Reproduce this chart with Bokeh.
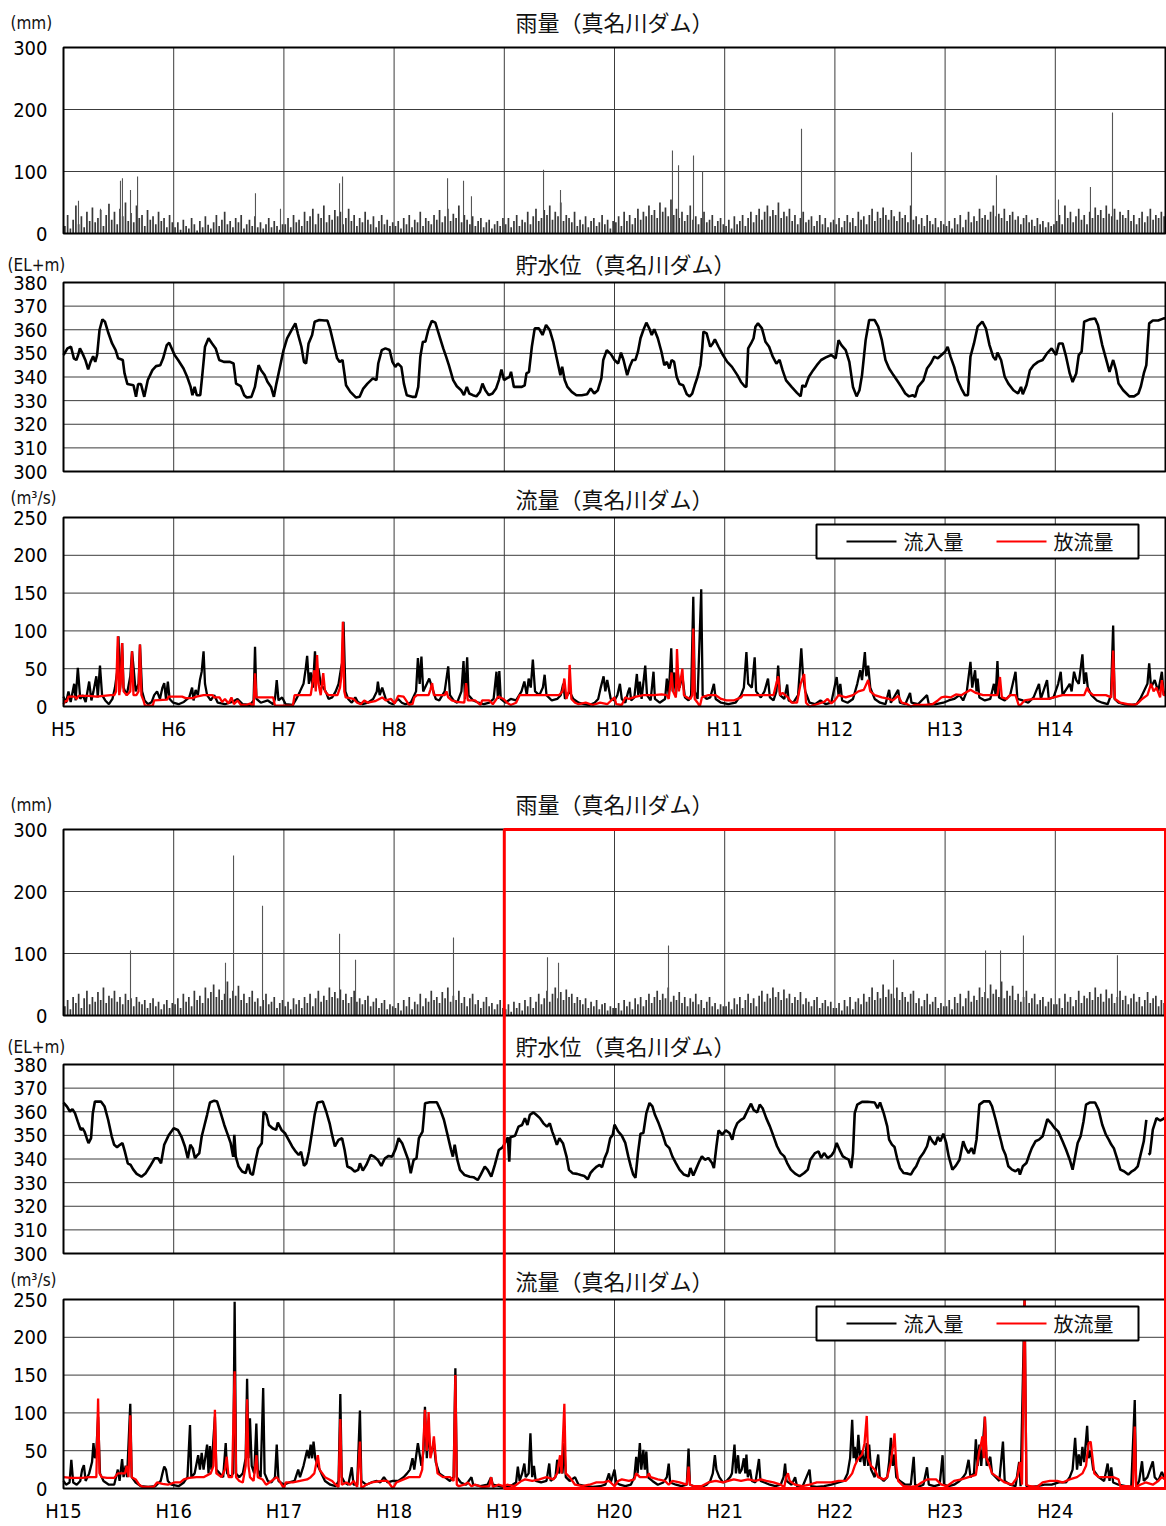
import numpy as np
from bokeh.plotting import figure
from bokeh.models import Range1d, FixedTicker, CustomJSTickFormatter, Label, BoxAnnotation
from bokeh.layouts import column
from bokeh.embed import file_html
from bokeh.resources import INLINE
from bokeh.core.properties import value

# ---------------------------------------------------------------- data
RAIN_TICKS = [0, 100, 200, 300]
LEVEL_TICKS = [300, 310, 320, 330, 340, 350, 360, 370, 380]
FLOW_TICKS = [0, 50, 100, 150, 200, 250]

YEARS_A = list(range(5, 15))    # H5 .. H14
YEARS_B = list(range(15, 25))   # H15 .. H24

# rainfall (mm) sampled 40 times a year, one row per year
RAIN_A_ROWS = [
    [12, 30, 8, 22, 45, 15, 28, 10, 35, 20, 42, 18, 25, 38, 12, 30, 48, 22, 35, 15, 40, 28, 50, 20, 33, 18, 45, 25, 30, 12, 38, 22, 28, 15, 35, 20, 25, 10, 30, 18],
    [10, 18, 6, 22, 12, 8, 25, 15, 5, 20, 10, 28, 14, 8, 18, 30, 12, 22, 35, 15, 20, 10, 25, 18, 30, 8, 15, 22, 12, 28, 10, 18, 8, 15, 25, 10, 20, 12, 6, 15],
    [15, 25, 10, 30, 18, 22, 12, 35, 20, 28, 40, 15, 32, 25, 45, 18, 30, 22, 38, 28, 35, 15, 25, 40, 20, 30, 12, 25, 18, 35, 22, 15, 28, 10, 20, 30, 15, 22, 12, 18],
    [12, 20, 8, 25, 15, 30, 10, 22, 18, 35, 12, 25, 20, 15, 30, 22, 38, 18, 28, 40, 20, 32, 25, 45, 18, 30, 22, 15, 28, 12, 20, 25, 10, 18, 22, 8, 15, 20, 12, 25],
    [15, 25, 10, 20, 30, 12, 22, 18, 35, 15, 28, 40, 20, 25, 38, 30, 45, 22, 35, 28, 50, 20, 30, 25, 18, 35, 12, 22, 15, 28, 10, 20, 25, 12, 18, 30, 15, 22, 8, 20],
    [18, 28, 12, 35, 20, 30, 15, 25, 40, 22, 35, 28, 45, 30, 38, 25, 50, 35, 42, 28, 55, 30, 40, 25, 35, 20, 30, 45, 22, 28, 15, 25, 35, 18, 22, 30, 12, 20, 25, 15],
    [12, 22, 8, 28, 15, 20, 30, 12, 25, 35, 18, 30, 40, 22, 35, 45, 28, 38, 30, 50, 25, 35, 28, 40, 20, 30, 15, 25, 35, 18, 22, 28, 12, 20, 30, 15, 25, 10, 18, 22],
    [15, 25, 10, 20, 30, 18, 25, 12, 35, 22, 28, 15, 30, 40, 20, 35, 25, 42, 30, 22, 38, 28, 20, 35, 25, 30, 18, 45, 22, 28, 15, 25, 12, 30, 20, 15, 25, 10, 20, 15],
    [12, 20, 8, 25, 15, 30, 10, 22, 35, 18, 28, 20, 40, 25, 30, 22, 35, 45, 28, 32, 25, 40, 20, 30, 35, 22, 28, 15, 25, 30, 18, 22, 12, 25, 15, 20, 10, 18, 12, 15],
    [20, 30, 15, 45, 25, 35, 18, 28, 40, 22, 30, 15, 35, 25, 42, 30, 38, 25, 45, 32, 28, 40, 22, 35, 30, 25, 38, 20, 30, 15, 25, 35, 18, 28, 40, 22, 30, 25, 35, 28],
]
RAIN_B_ROWS = [
    [15, 25, 10, 30, 20, 35, 12, 28, 40, 18, 30, 22, 38, 25, 45, 20, 32, 28, 40, 22, 30, 18, 35, 25, 28, 15, 30, 22, 18, 25, 12, 20, 28, 15, 22, 10, 18, 25, 12, 20],
    [18, 28, 12, 35, 22, 30, 15, 40, 25, 32, 20, 45, 28, 38, 50, 30, 42, 25, 35, 55, 28, 40, 32, 48, 25, 35, 20, 30, 40, 22, 28, 15, 25, 35, 18, 22, 30, 12, 20, 25],
    [15, 22, 10, 28, 18, 25, 12, 30, 20, 35, 15, 28, 40, 22, 32, 25, 45, 30, 38, 28, 42, 25, 35, 20, 30, 40, 22, 28, 18, 25, 32, 15, 22, 28, 12, 20, 25, 10, 18, 15],
    [12, 20, 8, 25, 15, 30, 10, 22, 18, 35, 15, 28, 22, 40, 25, 30, 20, 38, 28, 45, 22, 32, 25, 40, 20, 30, 15, 28, 35, 18, 25, 12, 22, 30, 15, 20, 10, 18, 25, 12],
    [10, 18, 6, 22, 12, 20, 8, 25, 15, 30, 12, 22, 35, 18, 28, 40, 22, 35, 45, 28, 38, 25, 42, 30, 35, 20, 30, 25, 18, 28, 12, 22, 15, 25, 10, 18, 20, 8, 15, 12],
    [12, 20, 8, 25, 15, 22, 10, 28, 18, 30, 15, 25, 35, 20, 30, 40, 25, 35, 28, 45, 22, 32, 25, 38, 20, 30, 15, 28, 22, 35, 18, 25, 12, 22, 30, 15, 20, 10, 18, 15],
    [15, 22, 10, 28, 18, 30, 12, 25, 35, 20, 28, 15, 32, 40, 22, 35, 28, 45, 30, 38, 25, 42, 28, 35, 20, 30, 25, 38, 18, 28, 22, 15, 25, 30, 12, 20, 25, 15, 22, 12],
    [12, 20, 8, 25, 15, 30, 10, 22, 28, 18, 35, 22, 30, 45, 25, 38, 28, 50, 30, 42, 35, 28, 45, 25, 38, 30, 22, 35, 40, 20, 28, 15, 25, 35, 18, 22, 30, 12, 20, 15],
    [15, 25, 10, 30, 20, 35, 15, 28, 40, 22, 32, 25, 45, 30, 38, 28, 50, 35, 42, 30, 55, 28, 40, 32, 48, 25, 35, 22, 30, 40, 20, 28, 35, 18, 25, 30, 15, 22, 28, 18],
    [18, 28, 12, 35, 22, 30, 15, 25, 40, 20, 32, 28, 38, 25, 45, 30, 35, 22, 42, 28, 35, 20, 30, 40, 25, 32, 18, 28, 35, 22, 30, 15, 25, 38, 20, 28, 32, 15, 25, 20],
]
# heavy-rain days (mm), (year, mm)
RAIN_A_PEAKS = [
    (5.136, 53), (5.336, 40), (5.517, 85), (5.535, 89), (5.608, 70), (5.672, 92),
    (6.742, 65), (6.969, 40), (7.505, 81), (7.532, 92), (8.485, 89), (8.630, 85),
    (8.702, 60), (9.356, 103), (9.510, 70), (10.526, 134), (10.581, 110),
    (10.717, 126), (10.799, 100), (11.697, 169), (12.695, 131), (13.466, 94),
    (14.029, 55), (14.319, 75), (14.519, 195),
]
RAIN_B_PEAKS = [
    (15.608, 105), (16.470, 85), (16.543, 258), (16.806, 177), (17.505, 132),
    (17.650, 90), (18.539, 126), (19.392, 94), (19.492, 85), (20.490, 113),
    (22.532, 90), (23.367, 105), (23.503, 105), (23.711, 129), (24.564, 97),
]

# reservoir level (EL.m), (year, level)
LEVEL_A = [
    (5.000, 349.3), (5.036, 352.1), (5.068, 352.8), (5.094, 347.9), (5.117, 347.2),
    (5.133, 349.3), (5.149, 352.1), (5.172, 350.0), (5.198, 347.2), (5.224, 343.2),
    (5.246, 346.4), (5.269, 348.8), (5.288, 346.4), (5.305, 349.3), (5.327, 359.9),
    (5.353, 364.4), (5.376, 363.4), (5.408, 358.5), (5.441, 354.2), (5.473, 351.4),
    (5.496, 347.9), (5.538, 347.2), (5.554, 341.5), (5.580, 337.0), (5.635, 336.5),
    (5.658, 331.6), (5.677, 337.0), (5.703, 337.0), (5.733, 331.6), (5.765, 338.7),
    (5.807, 342.9), (5.840, 344.6), (5.878, 345.0), (5.904, 347.9), (5.937, 353.5),
    (5.959, 354.5), (5.982, 352.1), (6.008, 349.3), (6.040, 347.2), (6.089, 343.6),
    (6.122, 340.1), (6.154, 335.8), (6.170, 332.3), (6.190, 335.8), (6.209, 332.3),
    (6.241, 332.3), (6.261, 341.5), (6.284, 352.8), (6.316, 356.4), (6.348, 354.2),
    (6.381, 352.1), (6.413, 347.2), (6.455, 346.4), (6.511, 346.4), (6.543, 345.7),
    (6.566, 337.2), (6.608, 336.1), (6.640, 332.3), (6.663, 331.3), (6.705, 331.6),
    (6.737, 335.8), (6.770, 345.0), (6.793, 342.9), (6.825, 340.8), (6.851, 338.0),
    (6.883, 335.8), (6.909, 331.6), (6.932, 337.2), (6.955, 342.2), (6.997, 351.4),
    (7.029, 356.4), (7.078, 360.6), (7.104, 362.7), (7.126, 358.5), (7.159, 352.8),
    (7.182, 346.4), (7.201, 345.7), (7.224, 354.2), (7.256, 357.8), (7.279, 363.4),
    (7.321, 364.1), (7.370, 363.9), (7.395, 363.9), (7.418, 360.6), (7.451, 354.2),
    (7.483, 347.9), (7.506, 346.4), (7.532, 347.2), (7.564, 336.5), (7.603, 333.7),
    (7.655, 331.3), (7.687, 331.6), (7.720, 335.1), (7.758, 337.2), (7.807, 339.4),
    (7.840, 338.7), (7.856, 345.7), (7.888, 351.4), (7.921, 352.1), (7.959, 351.4),
    (7.985, 346.4), (8.011, 344.3), (8.034, 345.7), (8.066, 344.3), (8.089, 337.2),
    (8.115, 332.3), (8.164, 331.6), (8.196, 331.6), (8.219, 335.8), (8.238, 348.6),
    (8.261, 354.9), (8.284, 354.9), (8.310, 359.9), (8.342, 363.7), (8.374, 363.0),
    (8.413, 357.1), (8.446, 352.1), (8.472, 348.6), (8.497, 345.0), (8.536, 338.7),
    (8.569, 336.1), (8.608, 334.4), (8.634, 332.3), (8.660, 335.8), (8.682, 333.0),
    (8.715, 332.3), (8.747, 331.8), (8.779, 333.7), (8.802, 337.2), (8.828, 334.4),
    (8.860, 332.3), (8.893, 333.0), (8.925, 335.1), (8.951, 338.7), (8.974, 343.2),
    (8.997, 338.7), (9.022, 339.4), (9.048, 340.1), (9.061, 342.2), (9.087, 335.8),
    (9.120, 335.8), (9.159, 335.8), (9.185, 336.5), (9.201, 341.5), (9.224, 342.2),
    (9.250, 352.8), (9.276, 360.6), (9.314, 360.6), (9.347, 357.8), (9.379, 362.0),
    (9.412, 359.9), (9.444, 354.9), (9.476, 347.9), (9.509, 340.8), (9.525, 344.3),
    (9.548, 338.7), (9.573, 335.8), (9.612, 333.7), (9.654, 332.3), (9.703, 332.3),
    (9.751, 332.7), (9.784, 335.1), (9.816, 333.0), (9.849, 334.4), (9.881, 339.4),
    (9.898, 347.2), (9.930, 351.4), (9.967, 349.7), (10.000, 347.2), (10.033, 345.7),
    (10.059, 350.3), (10.082, 347.2), (10.115, 340.8), (10.138, 344.3), (10.164, 347.2),
    (10.190, 347.2), (10.213, 350.7), (10.236, 356.4), (10.262, 359.9), (10.289, 363.0),
    (10.315, 360.6), (10.338, 357.8), (10.361, 360.2), (10.393, 356.4), (10.426, 350.7),
    (10.452, 345.0), (10.475, 346.4), (10.498, 343.6), (10.518, 347.2), (10.541, 346.4),
    (10.564, 340.1), (10.590, 337.0), (10.623, 336.5), (10.656, 332.7), (10.682, 331.8),
    (10.705, 333.0), (10.728, 336.5), (10.754, 340.1), (10.780, 345.0), (10.797, 352.8),
    (10.807, 359.2), (10.836, 358.5), (10.869, 352.8), (10.892, 354.2), (10.911, 355.9),
    (10.944, 352.8), (10.984, 349.3), (11.023, 346.4), (11.066, 344.3), (11.115, 340.8),
    (11.148, 337.9), (11.180, 336.1), (11.197, 335.8), (11.213, 352.1), (11.239, 354.2),
    (11.262, 356.4), (11.279, 361.3), (11.302, 362.7), (11.338, 360.6), (11.370, 354.9),
    (11.403, 352.8), (11.436, 348.6), (11.469, 345.7), (11.498, 347.2), (11.525, 342.9),
    (11.557, 338.6), (11.607, 335.8), (11.656, 333.3), (11.689, 331.8), (11.705, 336.5),
    (11.731, 335.8), (11.764, 340.1), (11.803, 342.9), (11.836, 345.0), (11.875, 347.2),
    (11.918, 348.3), (11.967, 349.3), (12.007, 347.9), (12.033, 355.6), (12.059, 353.5),
    (12.098, 351.4), (12.131, 346.4), (12.164, 335.8), (12.197, 331.8), (12.223, 334.4),
    (12.246, 340.8), (12.279, 355.6), (12.311, 364.1), (12.361, 364.1), (12.393, 361.3),
    (12.426, 355.6), (12.459, 347.2), (12.492, 343.6), (12.531, 340.8), (12.574, 337.9),
    (12.607, 335.5), (12.639, 333.0), (12.672, 331.8), (12.705, 332.3), (12.728, 331.6),
    (12.754, 335.8), (12.803, 338.6), (12.836, 343.6), (12.869, 345.7), (12.902, 348.6),
    (12.934, 347.9), (12.967, 349.3), (13.000, 350.7), (13.023, 352.8), (13.049, 348.6),
    (13.082, 344.3), (13.115, 338.6), (13.148, 335.1), (13.180, 332.3), (13.207, 332.3),
    (13.230, 348.6), (13.262, 354.2), (13.295, 361.3), (13.338, 363.4), (13.370, 360.6),
    (13.403, 353.5), (13.436, 348.6), (13.459, 347.2), (13.475, 350.3), (13.508, 347.2),
    (13.541, 340.1), (13.574, 337.2), (13.620, 334.4), (13.662, 333.0), (13.689, 335.8),
    (13.705, 332.7), (13.738, 336.5), (13.770, 342.9), (13.803, 345.0), (13.843, 346.4),
    (13.885, 347.2), (13.925, 350.0), (13.967, 352.1), (14.007, 349.3), (14.033, 354.2),
    (14.066, 354.2), (14.098, 348.6), (14.131, 341.5), (14.157, 337.9), (14.190, 341.5),
    (14.213, 349.3), (14.239, 350.7), (14.262, 363.4), (14.311, 364.4), (14.361, 364.8),
    (14.387, 362.0), (14.426, 353.5), (14.459, 347.9), (14.492, 342.2), (14.525, 347.2),
    (14.551, 342.9), (14.574, 337.2), (14.616, 334.4), (14.672, 331.8), (14.715, 331.8),
    (14.754, 333.0), (14.777, 336.1), (14.803, 341.5), (14.826, 345.0), (14.852, 362.7),
    (14.885, 363.9), (14.934, 363.9), (14.984, 364.8), (15.000, 364.8),
]
LEVEL_B = [
    (15.000, 363.9), (15.032, 362.2), (15.058, 360.1), (15.081, 361.1), (15.104, 359.4),
    (15.130, 355.8), (15.156, 352.3), (15.172, 353.0), (15.191, 351.6), (15.211, 348.8),
    (15.227, 346.7), (15.250, 348.8), (15.266, 359.4), (15.285, 364.3), (15.340, 364.3),
    (15.373, 362.2), (15.405, 356.6), (15.438, 349.5), (15.460, 346.0), (15.486, 345.0),
    (15.512, 346.0), (15.535, 346.7), (15.557, 343.1), (15.583, 338.2), (15.609, 337.5),
    (15.632, 335.6), (15.664, 333.7), (15.707, 332.5), (15.746, 334.0), (15.784, 336.8),
    (15.827, 340.3), (15.859, 340.3), (15.885, 338.2), (15.914, 346.0), (15.956, 350.2),
    (16.000, 353.0), (16.037, 352.3), (16.070, 349.5), (16.102, 345.3), (16.128, 340.3),
    (16.151, 346.0), (16.173, 344.5), (16.193, 340.3), (16.216, 341.7), (16.232, 342.4),
    (16.254, 349.5), (16.280, 354.4), (16.303, 358.7), (16.329, 363.9), (16.368, 364.7),
    (16.394, 364.3), (16.427, 359.4), (16.459, 354.4), (16.491, 350.2), (16.517, 346.7),
    (16.540, 341.0), (16.550, 350.2), (16.563, 341.0), (16.589, 336.8), (16.621, 334.7),
    (16.653, 334.0), (16.676, 337.9), (16.696, 334.0), (16.718, 333.2), (16.744, 339.6),
    (16.767, 344.5), (16.799, 346.7), (16.816, 360.1), (16.842, 358.7), (16.864, 354.4),
    (16.897, 353.0), (16.929, 352.3), (16.945, 355.4), (16.978, 352.3), (17.010, 350.9),
    (17.043, 348.1), (17.075, 345.3), (17.108, 343.1), (17.134, 341.7), (17.156, 343.1),
    (17.182, 337.1), (17.204, 338.2), (17.227, 343.1), (17.256, 351.6), (17.279, 358.7),
    (17.305, 363.9), (17.353, 364.3), (17.384, 360.1), (17.415, 355.1), (17.437, 350.2),
    (17.463, 345.3), (17.496, 348.1), (17.528, 348.8), (17.551, 343.8), (17.576, 336.8),
    (17.610, 336.1), (17.642, 334.7), (17.674, 335.4), (17.690, 338.2), (17.716, 335.1),
    (17.748, 337.5), (17.787, 341.7), (17.819, 341.0), (17.852, 339.6), (17.884, 337.1),
    (17.917, 340.3), (17.950, 341.3), (17.982, 341.0), (18.015, 344.5), (18.041, 348.8),
    (18.073, 346.7), (18.096, 343.8), (18.129, 339.6), (18.151, 334.0), (18.177, 339.6),
    (18.203, 340.3), (18.225, 348.8), (18.258, 351.6), (18.281, 363.6), (18.323, 364.0),
    (18.388, 364.0), (18.420, 360.8), (18.452, 356.6), (18.485, 350.2), (18.517, 343.8),
    (18.533, 341.0), (18.550, 346.0), (18.574, 339.6), (18.598, 335.4), (18.640, 333.2),
    (18.687, 332.5), (18.720, 332.3), (18.759, 331.1), (18.784, 333.2), (18.823, 336.8),
    (18.849, 335.4), (18.882, 332.5), (18.914, 337.5), (18.950, 343.8), (18.987, 345.0),
    (19.032, 349.2), (19.045, 338.9), (19.055, 349.2), (19.097, 349.8), (19.129, 353.7),
    (19.161, 354.4), (19.187, 357.3), (19.210, 354.4), (19.232, 358.7), (19.265, 359.7),
    (19.290, 358.7), (19.323, 357.3), (19.355, 355.1), (19.387, 353.7), (19.413, 355.1),
    (19.435, 351.6), (19.452, 349.5), (19.477, 346.0), (19.500, 348.8), (19.532, 346.7),
    (19.565, 341.0), (19.587, 335.4), (19.619, 334.0), (19.661, 333.7), (19.694, 333.2),
    (19.726, 332.8), (19.758, 331.4), (19.781, 334.0), (19.806, 335.4), (19.839, 336.8),
    (19.865, 337.5), (19.887, 336.5), (19.910, 340.3), (19.935, 343.1), (19.961, 348.8),
    (19.984, 350.2), (20.000, 354.5), (20.033, 351.7), (20.066, 349.9), (20.098, 346.8),
    (20.125, 341.1), (20.148, 336.9), (20.170, 333.4), (20.190, 332.0), (20.213, 342.5),
    (20.236, 350.7), (20.262, 351.0), (20.289, 359.4), (20.318, 363.7), (20.344, 362.3),
    (20.367, 358.7), (20.400, 355.2), (20.433, 351.0), (20.466, 346.1), (20.498, 344.6),
    (20.525, 341.1), (20.557, 338.3), (20.590, 335.5), (20.630, 333.4), (20.672, 332.7),
    (20.689, 336.2), (20.715, 333.0), (20.738, 335.5), (20.770, 339.0), (20.793, 341.1),
    (20.820, 339.7), (20.852, 340.4), (20.885, 338.3), (20.902, 336.2), (20.925, 345.4),
    (20.944, 352.1), (20.977, 350.3), (21.010, 352.1), (21.043, 351.0), (21.069, 348.2),
    (21.089, 352.4), (21.115, 355.2), (21.148, 356.6), (21.174, 357.3), (21.213, 361.1),
    (21.239, 363.4), (21.262, 360.8), (21.295, 359.7), (21.318, 363.0), (21.344, 361.5),
    (21.377, 357.3), (21.410, 353.8), (21.443, 349.6), (21.475, 345.4), (21.508, 342.5),
    (21.541, 341.1), (21.567, 338.3), (21.600, 335.5), (21.639, 333.8), (21.679, 332.7),
    (21.721, 334.1), (21.754, 335.5), (21.777, 339.7), (21.820, 342.5), (21.852, 343.2),
    (21.875, 340.4), (21.902, 342.5), (21.934, 340.4), (21.967, 341.4), (21.993, 343.2),
    (22.016, 346.8), (22.049, 343.2), (22.072, 341.1), (22.098, 340.4), (22.125, 339.7),
    (22.148, 336.2), (22.164, 342.5), (22.180, 359.4), (22.203, 363.0), (22.246, 364.2),
    (22.295, 364.2), (22.361, 363.9), (22.387, 361.5), (22.410, 363.9), (22.443, 359.4),
    (22.475, 353.8), (22.492, 348.2), (22.518, 346.1), (22.541, 345.1), (22.564, 340.4),
    (22.590, 336.2), (22.623, 334.1), (22.662, 333.8), (22.689, 333.4), (22.715, 335.5),
    (22.738, 336.9), (22.770, 340.4), (22.803, 342.5), (22.836, 345.4), (22.859, 349.6),
    (22.885, 347.5), (22.911, 346.1), (22.934, 349.3), (22.957, 347.5), (22.984, 350.7),
    (23.010, 346.8), (23.033, 341.1), (23.066, 335.5), (23.098, 337.2), (23.131, 339.7),
    (23.164, 347.5), (23.187, 344.6), (23.213, 342.5), (23.239, 344.6), (23.262, 342.1),
    (23.285, 348.2), (23.311, 363.0), (23.351, 364.4), (23.403, 364.4), (23.426, 362.3),
    (23.459, 356.6), (23.492, 350.3), (23.508, 347.5), (23.525, 344.2), (23.548, 341.8),
    (23.574, 336.9), (23.607, 335.5), (23.639, 334.8), (23.666, 335.8), (23.679, 333.4),
    (23.705, 336.9), (23.738, 338.3), (23.764, 341.8), (23.787, 344.6), (23.820, 347.5),
    (23.852, 348.2), (23.885, 349.6), (23.928, 356.9), (23.961, 355.2), (23.993, 353.1),
    (24.026, 351.7), (24.066, 347.5), (24.098, 343.9), (24.131, 339.7), (24.157, 335.5),
    (24.180, 341.1), (24.203, 346.8), (24.230, 349.6), (24.256, 355.9), (24.279, 363.0),
    (24.311, 363.9), (24.361, 363.9), (24.393, 360.8), (24.426, 354.5), (24.459, 350.3),
    (24.485, 348.2), (24.508, 346.1), (24.531, 344.6), (24.564, 339.7), (24.590, 335.5),
    (24.623, 334.8), (24.662, 333.4), (24.695, 334.8), (24.721, 335.5), (24.748, 336.9),
    (24.770, 341.1), (24.803, 347.5), (24.826, 356.6), (24.836, float("nan")),
    (24.846, 341.8), (24.859, 342.3), (24.885, 352.4), (24.918, 357.3), (24.951, 356.3),
    (24.977, 356.9), (25.000, 357.7),
]

# inflow (m3/s), (year, discharge)
INFLOW_A = [
    (5.000, 13), (5.023, 5), (5.045, 20), (5.065, 6), (5.097, 30), (5.110, 8), (5.130, 51),
    (5.152, 10), (5.175, 15), (5.201, 6), (5.233, 33), (5.253, 8), (5.272, 20), (5.298, 40),
    (5.311, 12), (5.331, 54), (5.350, 15), (5.379, 8), (5.412, 3), (5.444, 10), (5.467, 25),
    (5.486, 45), (5.499, 93), (5.512, 20), (5.532, 84), (5.545, 25), (5.574, 15), (5.606, 40),
    (5.622, 73), (5.639, 46), (5.655, 20), (5.681, 30), (5.694, 82), (5.713, 20), (5.736, 8),
    (5.768, 3), (5.801, 6), (5.823, 15), (5.849, 20), (5.875, 10), (5.898, 25), (5.914, 31),
    (5.930, 10), (5.947, 33), (5.963, 10), (5.995, 5), (6.044, 3), (6.092, 6), (6.141, 12),
    (6.167, 25), (6.180, 8), (6.199, 22), (6.219, 15), (6.238, 35), (6.254, 46), (6.271, 73),
    (6.284, 30), (6.303, 15), (6.336, 8), (6.368, 15), (6.400, 5), (6.465, 3), (6.530, 6),
    (6.579, 10), (6.627, 3), (6.692, 2), (6.725, 8), (6.738, 79), (6.751, 10), (6.790, 5),
    (6.854, 8), (6.903, 3), (6.919, 10), (6.935, 35), (6.951, 8), (6.984, 12), (7.016, 3),
    (7.081, 2), (7.113, 10), (7.146, 20), (7.178, 30), (7.198, 50), (7.211, 67), (7.227, 30),
    (7.243, 45), (7.263, 25), (7.282, 73), (7.295, 40), (7.314, 50), (7.334, 30), (7.357, 25),
    (7.379, 20), (7.405, 10), (7.438, 12), (7.470, 20), (7.496, 30), (7.519, 51), (7.532, 60),
    (7.541, 112), (7.558, 20), (7.583, 10), (7.616, 5), (7.648, 12), (7.671, 6), (7.713, 3),
    (7.762, 5), (7.810, 10), (7.843, 20), (7.853, 33), (7.869, 15), (7.892, 25), (7.924, 10),
    (7.956, 5), (7.989, 3), (8.037, 10), (8.070, 5), (8.102, 3), (8.151, 5), (8.199, 20),
    (8.216, 64), (8.232, 30), (8.248, 66), (8.264, 20), (8.297, 30), (8.319, 37), (8.345, 25),
    (8.378, 10), (8.410, 8), (8.459, 20), (8.491, 53), (8.507, 15), (8.540, 8), (8.572, 5),
    (8.611, 20), (8.630, 60), (8.643, 10), (8.663, 65), (8.676, 15), (8.718, 8), (8.767, 5),
    (8.815, 3), (8.864, 5), (8.903, 10), (8.929, 46), (8.942, 10), (8.955, 47), (8.968, 10),
    (9.010, 5), (9.058, 10), (9.107, 8), (9.156, 20), (9.182, 33), (9.204, 15), (9.221, 37),
    (9.240, 25), (9.259, 62), (9.279, 20), (9.318, 15), (9.350, 25), (9.366, 42), (9.383, 15),
    (9.431, 8), (9.480, 10), (9.512, 15), (9.535, 30), (9.551, 10), (9.593, 20), (9.626, 10),
    (9.674, 5), (9.723, 3), (9.772, 2), (9.820, 5), (9.852, 10), (9.875, 25), (9.901, 40),
    (9.917, 20), (9.934, 35), (9.966, 10), (10.000, 8), (10.026, 15), (10.049, 30),
    (10.066, 10), (10.098, 5), (10.125, 20), (10.138, 25), (10.151, 8), (10.180, 12),
    (10.203, 43), (10.216, 15), (10.230, 33), (10.246, 10), (10.279, 54), (10.295, 15),
    (10.328, 8), (10.354, 46), (10.367, 10), (10.410, 5), (10.459, 10), (10.475, 37),
    (10.492, 15), (10.515, 77), (10.528, 20), (10.544, 45), (10.557, 15), (10.574, 45),
    (10.590, 25), (10.616, 40), (10.639, 12), (10.672, 8), (10.695, 15), (10.715, 145),
    (10.728, 20), (10.754, 10), (10.787, 155), (10.800, 15), (10.836, 10), (10.869, 12),
    (10.902, 30), (10.918, 10), (10.967, 5), (11.033, 3), (11.098, 5), (11.148, 15),
    (11.174, 25), (11.197, 72), (11.213, 30), (11.246, 25), (11.272, 65), (11.285, 20),
    (11.328, 12), (11.361, 20), (11.393, 37), (11.410, 12), (11.443, 8), (11.469, 20),
    (11.485, 54), (11.502, 15), (11.541, 10), (11.567, 29), (11.580, 8), (11.623, 5),
    (11.666, 15), (11.695, 77), (11.711, 40), (11.731, 20), (11.770, 5), (11.820, 3),
    (11.869, 8), (11.918, 3), (11.967, 5), (12.016, 39), (12.033, 15), (12.049, 30),
    (12.066, 8), (12.115, 5), (12.164, 10), (12.203, 30), (12.230, 48), (12.246, 35),
    (12.272, 72), (12.285, 40), (12.302, 54), (12.321, 25), (12.361, 10), (12.410, 5),
    (12.459, 3), (12.492, 22), (12.508, 5), (12.574, 22), (12.590, 5), (12.639, 3),
    (12.682, 18), (12.695, 5), (12.754, 3), (12.836, 15), (12.852, 3), (12.918, 3),
    (12.984, 5), (13.033, 8), (13.082, 10), (13.131, 15), (13.164, 8), (13.197, 20),
    (13.230, 59), (13.246, 25), (13.272, 48), (13.285, 20), (13.295, 37), (13.311, 12),
    (13.361, 8), (13.410, 10), (13.443, 30), (13.459, 15), (13.475, 60), (13.489, 12),
    (13.541, 8), (13.590, 15), (13.639, 46), (13.656, 10), (13.705, 8), (13.754, 5),
    (13.803, 12), (13.852, 30), (13.869, 10), (13.925, 35), (13.941, 10), (13.984, 12),
    (14.026, 30), (14.049, 46), (14.066, 15), (14.131, 30), (14.148, 20), (14.170, 46),
    (14.190, 35), (14.213, 30), (14.246, 69), (14.262, 30), (14.279, 45), (14.295, 25),
    (14.328, 15), (14.377, 8), (14.426, 5), (14.475, 3), (14.505, 15), (14.525, 107),
    (14.538, 10), (14.574, 5), (14.623, 3), (14.689, 2), (14.738, 3), (14.770, 10),
    (14.803, 20), (14.836, 30), (14.852, 57), (14.869, 25), (14.902, 35), (14.934, 20),
    (14.967, 46), (14.984, 15), (15.000, 20),
]
INFLOW_B = [
    (15.000, 10), (15.023, 5), (15.055, 8), (15.071, 38), (15.088, 8), (15.120, 5),
    (15.152, 10), (15.169, 25), (15.185, 31), (15.201, 10), (15.233, 20), (15.259, 35),
    (15.272, 60), (15.285, 40), (15.298, 50), (15.314, 95), (15.331, 20), (15.363, 10),
    (15.412, 5), (15.460, 5), (15.493, 25), (15.509, 10), (15.532, 39), (15.545, 15),
    (15.564, 30), (15.577, 15), (15.606, 112), (15.619, 15), (15.655, 8), (15.703, 3),
    (15.768, 2), (15.833, 3), (15.882, 10), (15.898, 20), (15.914, 29), (15.930, 25),
    (15.947, 10), (15.979, 5), (16.044, 3), (16.092, 8), (16.125, 15), (16.148, 84),
    (16.160, 15), (16.190, 20), (16.222, 44), (16.238, 25), (16.254, 47), (16.271, 25),
    (16.303, 58), (16.316, 20), (16.329, 56), (16.342, 25), (16.374, 95), (16.387, 25),
    (16.417, 20), (16.449, 15), (16.472, 60), (16.485, 20), (16.514, 15), (16.540, 20),
    (16.553, 247), (16.566, 20), (16.595, 15), (16.627, 20), (16.653, 40), (16.666, 145),
    (16.679, 40), (16.692, 93), (16.708, 30), (16.731, 20), (16.750, 86), (16.763, 25),
    (16.789, 15), (16.812, 133), (16.825, 20), (16.854, 10), (16.887, 8), (16.919, 15),
    (16.935, 58), (16.951, 10), (17.000, 5), (17.049, 8), (17.097, 10), (17.130, 25),
    (17.146, 15), (17.178, 30), (17.194, 40), (17.211, 51), (17.227, 40), (17.243, 58),
    (17.256, 40), (17.269, 62), (17.285, 40), (17.308, 30), (17.340, 20), (17.373, 10),
    (17.421, 5), (17.470, 3), (17.496, 10), (17.512, 125), (17.525, 15), (17.551, 8),
    (17.584, 5), (17.616, 28), (17.632, 5), (17.665, 5), (17.690, 103), (17.703, 10),
    (17.746, 5), (17.794, 8), (17.843, 10), (17.875, 8), (17.908, 15), (17.940, 8),
    (17.989, 10), (18.037, 10), (18.086, 15), (18.118, 20), (18.144, 25), (18.167, 40),
    (18.183, 25), (18.216, 60), (18.232, 45), (18.248, 30), (18.267, 50), (18.280, 108),
    (18.297, 40), (18.313, 80), (18.329, 45), (18.361, 60), (18.378, 35), (18.410, 20),
    (18.459, 15), (18.507, 10), (18.540, 15), (18.556, 159), (18.569, 15), (18.605, 8),
    (18.653, 5), (18.702, 15), (18.718, 5), (18.783, 3), (18.848, 5), (18.880, 15),
    (18.896, 5), (18.961, 3), (19.026, 2), (19.075, 5), (19.107, 8), (19.123, 29),
    (19.139, 10), (19.162, 20), (19.182, 33), (19.195, 15), (19.221, 20), (19.237, 73),
    (19.253, 15), (19.269, 30), (19.285, 10), (19.334, 8), (19.383, 10), (19.408, 33),
    (19.421, 10), (19.464, 15), (19.480, 38), (19.496, 20), (19.512, 30), (19.528, 20),
    (19.545, 60), (19.558, 15), (19.593, 10), (19.642, 15), (19.674, 5), (19.739, 3),
    (19.804, 2), (19.869, 3), (19.917, 5), (19.950, 20), (19.966, 8), (20.000, 25),
    (20.016, 8), (20.049, 5), (20.098, 3), (20.148, 5), (20.180, 15), (20.197, 42),
    (20.210, 20), (20.230, 60), (20.243, 25), (20.262, 51), (20.275, 25), (20.289, 49),
    (20.302, 15), (20.344, 10), (20.393, 5), (20.443, 8), (20.475, 15), (20.492, 33),
    (20.505, 8), (20.557, 5), (20.607, 3), (20.656, 5), (20.672, 53), (20.685, 5),
    (20.721, 3), (20.787, 2), (20.836, 5), (20.869, 10), (20.892, 20), (20.911, 44),
    (20.925, 25), (20.951, 15), (20.984, 8), (21.016, 10), (21.049, 15), (21.066, 20),
    (21.089, 58), (21.102, 20), (21.121, 44), (21.134, 20), (21.154, 25), (21.174, 40),
    (21.187, 20), (21.197, 45), (21.210, 15), (21.230, 25), (21.246, 10), (21.279, 8),
    (21.311, 39), (21.325, 10), (21.361, 8), (21.410, 5), (21.459, 3), (21.508, 5),
    (21.534, 15), (21.548, 33), (21.561, 10), (21.607, 5), (21.639, 15), (21.656, 3),
    (21.705, 2), (21.770, 25), (21.784, 3), (21.836, 2), (21.902, 3), (21.967, 5),
    (22.033, 8), (22.082, 10), (22.115, 20), (22.138, 40), (22.157, 91), (22.170, 40),
    (22.180, 55), (22.197, 35), (22.213, 71), (22.230, 35), (22.246, 50), (22.269, 30),
    (22.289, 60), (22.302, 30), (22.311, 58), (22.328, 25), (22.361, 15), (22.393, 45),
    (22.407, 15), (22.443, 10), (22.475, 15), (22.492, 35), (22.508, 67), (22.525, 30),
    (22.541, 45), (22.557, 15), (22.590, 10), (22.639, 5), (22.689, 5), (22.715, 42),
    (22.728, 5), (22.770, 3), (22.803, 5), (22.836, 28), (22.852, 5), (22.902, 3),
    (22.951, 5), (22.977, 44), (22.990, 5), (23.033, 3), (23.082, 5), (23.131, 10),
    (23.164, 15), (23.187, 20), (23.213, 38), (23.230, 15), (23.262, 20), (23.279, 65),
    (23.295, 30), (23.311, 58), (23.328, 30), (23.361, 95), (23.377, 30), (23.410, 42),
    (23.426, 20), (23.459, 15), (23.492, 10), (23.525, 62), (23.541, 10), (23.590, 5),
    (23.639, 3), (23.672, 35), (23.685, 3), (23.721, 250), (23.738, 3), (23.787, 2),
    (23.836, 3), (23.902, 5), (23.967, 5), (24.033, 8), (24.098, 8), (24.131, 15),
    (24.157, 25), (24.180, 67), (24.197, 25), (24.213, 45), (24.230, 30), (24.246, 55),
    (24.262, 35), (24.289, 83), (24.302, 40), (24.321, 50), (24.344, 25), (24.393, 15),
    (24.443, 10), (24.475, 33), (24.492, 10), (24.508, 28), (24.525, 8), (24.574, 5),
    (24.639, 3), (24.689, 2), (24.721, 117), (24.734, 2), (24.761, 10), (24.787, 36),
    (24.803, 10), (24.836, 15), (24.859, 25), (24.885, 36), (24.902, 15), (24.934, 10),
    (24.967, 22), (25.000, 10),
]

# outflow (m3/s), (year, discharge)
OUTFLOW_A = [
    (5.000, 3), (5.013, 7), (5.032, 7), (5.045, 13), (5.104, 13), (5.120, 10), (5.136, 14),
    (5.233, 14), (5.298, 13), (5.428, 15), (5.460, 15), (5.477, 20), (5.493, 93), (5.506, 15),
    (5.519, 30), (5.532, 84), (5.545, 20), (5.574, 15), (5.606, 20), (5.622, 73), (5.635, 15),
    (5.661, 15), (5.681, 20), (5.694, 82), (5.707, 15), (5.726, 8), (5.739, 1), (5.810, 1),
    (5.823, 8), (5.940, 9), (5.953, 13), (6.076, 13), (6.109, 11), (6.173, 11), (6.206, 13),
    (6.271, 15), (6.352, 15), (6.368, 12), (6.417, 12), (6.439, 6), (6.465, 10), (6.498, 4),
    (6.524, 12), (6.546, 3), (6.579, 8), (6.611, 2), (6.660, 2), (6.692, 4), (6.725, 0),
    (6.738, 44), (6.751, 12), (6.903, 12), (6.919, 1), (7.081, 1), (7.097, 15), (7.243, 15),
    (7.259, 30), (7.276, 48), (7.289, 20), (7.301, 68), (7.314, 30), (7.334, 15), (7.357, 44),
    (7.373, 20), (7.405, 15), (7.486, 15), (7.509, 25), (7.522, 40), (7.535, 112), (7.548, 20),
    (7.561, 12), (7.632, 10), (7.665, 5), (7.697, 3), (7.729, 8), (7.762, 5), (7.827, 7),
    (7.892, 12), (7.924, 8), (7.973, 10), (8.005, 4), (8.037, 14), (8.086, 13), (8.118, 6),
    (8.135, 2), (8.167, 3), (8.183, 12), (8.209, 15), (8.313, 15), (8.329, 22), (8.345, 31),
    (8.361, 15), (8.459, 15), (8.475, 20), (8.491, 12), (8.524, 8), (8.572, 6), (8.637, 5),
    (8.653, 31), (8.669, 8), (8.734, 8), (8.783, 2), (8.799, 8), (8.864, 8), (8.896, 3),
    (8.945, 13), (8.994, 10), (9.026, 5), (9.058, 2), (9.107, 5), (9.139, 15), (9.188, 15),
    (9.447, 15), (9.496, 15), (9.528, 20), (9.545, 37), (9.564, 10), (9.584, 20), (9.593, 55),
    (9.609, 10), (9.642, 5), (9.674, 3), (9.739, 5), (9.804, 2), (9.869, 5), (9.934, 3),
    (10.000, 12), (10.016, 3), (10.066, 2), (10.098, 12), (10.131, 10), (10.197, 13),
    (10.262, 15), (10.361, 15), (10.426, 16), (10.475, 15), (10.492, 10), (10.508, 30),
    (10.518, 45), (10.531, 20), (10.557, 12), (10.567, 76), (10.584, 20), (10.616, 50),
    (10.630, 15), (10.656, 12), (10.689, 10), (10.705, 15), (10.715, 103), (10.728, 10),
    (10.754, 5), (10.774, 0), (10.793, 12), (10.852, 15), (10.918, 15), (10.967, 10),
    (11.016, 8), (11.082, 8), (11.148, 12), (11.164, 15), (11.279, 15), (11.443, 15),
    (11.485, 40), (11.502, 15), (11.525, 18), (11.574, 12), (11.607, 5), (11.656, 5),
    (11.689, 30), (11.721, 43), (11.738, 5), (11.770, 0), (11.836, 3), (11.902, 6),
    (11.934, 10), (11.967, 4), (12.000, 8), (12.033, 15), (12.098, 12), (12.164, 15),
    (12.213, 20), (12.262, 22), (12.302, 35), (12.321, 20), (12.361, 15), (12.426, 12),
    (12.492, 10), (12.525, 8), (12.574, 14), (12.607, 5), (12.656, 3), (12.689, 0),
    (12.721, 2), (12.820, 2), (12.885, 3), (12.934, 8), (12.967, 12), (13.000, 13),
    (13.049, 12), (13.098, 16), (13.148, 15), (13.180, 18), (13.230, 22), (13.279, 18),
    (13.344, 15), (13.475, 15), (13.498, 39), (13.515, 12), (13.557, 10), (13.590, 15),
    (13.639, 15), (13.672, 0), (13.721, 8), (13.803, 10), (13.934, 10), (14.066, 15),
    (14.262, 15), (14.289, 25), (14.302, 20), (14.344, 15), (14.459, 15), (14.508, 12),
    (14.525, 74), (14.541, 10), (14.590, 5), (14.656, 3), (14.721, 2), (14.754, 5),
    (14.787, 10), (14.836, 15), (14.869, 30), (14.892, 20), (14.918, 25), (14.951, 12),
    (14.967, 35), (14.984, 15), (15.000, 15),
]
OUTFLOW_B = [
    (15.000, 15), (15.071, 14), (15.169, 14), (15.233, 15), (15.298, 15), (15.314, 119),
    (15.327, 20), (15.347, 15), (15.395, 14), (15.460, 14), (15.493, 20), (15.558, 20),
    (15.574, 30), (15.590, 15), (15.606, 97), (15.619, 15), (15.655, 12), (15.687, 5),
    (15.720, 2), (15.817, 2), (15.849, 8), (15.898, 6), (15.947, 5), (16.011, 8),
    (16.060, 8), (16.092, 12), (16.141, 14), (16.206, 15), (16.271, 15), (16.336, 20),
    (16.361, 30), (16.374, 104), (16.387, 20), (16.433, 15), (16.465, 25), (16.481, 42),
    (16.498, 15), (16.530, 15), (16.553, 155), (16.566, 15), (16.595, 10), (16.627, 8),
    (16.653, 30), (16.666, 118), (16.679, 30), (16.692, 15), (16.725, 10), (16.751, 44),
    (16.763, 15), (16.806, 12), (16.838, 5), (16.887, 10), (16.935, 15), (16.968, 8),
    (17.000, 0), (17.016, 8), (17.081, 8), (17.146, 10), (17.211, 12), (17.243, 15),
    (17.276, 20), (17.308, 44), (17.324, 25), (17.373, 15), (17.438, 10), (17.470, 5),
    (17.496, 2), (17.512, 92), (17.525, 5), (17.567, 8), (17.600, 5), (17.632, 10),
    (17.665, 2), (17.690, 62), (17.703, 0), (17.746, 5), (17.794, 8), (17.892, 10),
    (17.940, 10), (17.989, 0), (18.021, 8), (18.086, 12), (18.135, 15), (18.232, 15),
    (18.255, 25), (18.280, 104), (18.297, 50), (18.313, 101), (18.329, 40), (18.345, 50),
    (18.361, 69), (18.378, 40), (18.394, 20), (18.443, 15), (18.507, 15), (18.540, 10),
    (18.556, 150), (18.569, 5), (18.588, 3), (18.637, 5), (18.669, 8), (18.702, 3),
    (18.734, 5), (18.799, 2), (18.864, 3), (18.880, 15), (18.896, 2), (18.945, 5),
    (18.994, 3), (19.026, 5), (19.091, 3), (19.156, 10), (19.188, 12), (19.253, 10),
    (19.318, 12), (19.383, 15), (19.447, 12), (19.480, 20), (19.506, 44), (19.519, 20),
    (19.545, 112), (19.558, 20), (19.593, 15), (19.642, 5), (19.707, 3), (19.772, 5),
    (19.836, 8), (19.901, 8), (19.950, 10), (20.000, 3), (20.033, 10), (20.066, 12),
    (20.131, 10), (20.180, 12), (20.197, 20), (20.230, 15), (20.295, 15), (20.311, 20),
    (20.328, 15), (20.393, 12), (20.459, 10), (20.492, 5), (20.525, 10), (20.590, 8),
    (20.656, 5), (20.672, 29), (20.685, 5), (20.721, 3), (20.787, 3), (20.852, 8),
    (20.918, 10), (20.984, 8), (21.033, 10), (21.082, 12), (21.148, 10), (21.213, 12),
    (21.279, 10), (21.328, 12), (21.377, 10), (21.443, 8), (21.508, 5), (21.541, 2),
    (21.557, 15), (21.574, 20), (21.590, 10), (21.639, 5), (21.705, 3), (21.770, 5),
    (21.836, 8), (21.902, 8), (21.967, 8), (22.033, 10), (22.098, 10), (22.131, 15),
    (22.157, 20), (22.180, 30), (22.213, 40), (22.246, 45), (22.269, 60), (22.289, 96),
    (22.302, 40), (22.328, 30), (22.361, 25), (22.393, 15), (22.443, 12), (22.475, 15),
    (22.508, 35), (22.531, 60), (22.541, 73), (22.557, 30), (22.574, 10), (22.623, 3),
    (22.689, 2), (22.738, 3), (22.787, 8), (22.836, 12), (22.918, 12), (22.967, 5),
    (23.016, 3), (23.082, 10), (23.148, 12), (23.213, 15), (23.279, 18), (23.311, 50),
    (23.328, 60), (23.338, 69), (23.351, 40), (23.361, 95), (23.377, 40), (23.403, 30),
    (23.426, 20), (23.475, 15), (23.541, 8), (23.607, 5), (23.656, 15), (23.679, 35),
    (23.698, 5), (23.721, 250), (23.738, 5), (23.770, 3), (23.836, 2), (23.885, 8),
    (23.951, 10), (24.016, 10), (24.066, 8), (24.131, 12), (24.197, 15), (24.246, 20),
    (24.279, 30), (24.302, 60), (24.321, 62), (24.334, 45), (24.354, 20), (24.393, 15),
    (24.459, 15), (24.525, 15), (24.574, 12), (24.590, 3), (24.656, 3), (24.705, 2),
    (24.721, 82), (24.734, 2), (24.770, 5), (24.820, 8), (24.885, 5), (24.934, 10),
    (24.967, 15), (25.000, 12),
]

TITLES = ["雨量（真名川ダム）", "貯水位（真名川ダム）", "流量（真名川ダム）"]
UNITS = ["(mm)", "(EL+m)", "(m³/s)"]
LEGEND_LABELS = ["流入量", "放流量"]
HIGHLIGHT_FROM = 19   # H19 onwards, boxed in red

# ---------------------------------------------------------------- layout
PAGE_W = 1166
FRAME_LEFT_PX = 63          # canvas x of the first year boundary
PX_PER_YEAR = 110.2
FRAME_H = 716               # frame height; layout y runs 0 (top) .. FRAME_H (bottom)
# name, top px, bottom px, low value, high value, ticks
PANELS = [
    ("rain", 47, 233, 0, 300, RAIN_TICKS),
    ("level", 282, 471, 300, 380, LEVEL_TICKS),
    ("flow", 517, 706, 0, 250, FLOW_TICKS),
]
TICK_LABEL_RIGHT_PX = 47
TITLE_Y = [20, 262, 497]
UNIT_Y = [22, 264, 497]
UNIT_X_PX = [10, 7, 10]
TITLE_X_PX = 515
LEGEND_BOX_PX = (816, 1138, 524, 558)
LEGEND_LINE_PX = [(846, 896), (996, 1046)]
LEGEND_TEXT_PX = [903, 1053]

NUM_FONT = "'DejaVu Sans Condensed', 'DejaVu Sans', sans-serif"
JP_FONT = "'Noto Sans CJK JP', sans-serif"
GRID = "#3c3c3c"
RAIN_COLOR = "#383838"


def unzip(pairs):
    xs, ys = zip(*pairs)
    return np.array(xs, dtype=float), np.array(ys, dtype=float)


def make_group(x0, years, rain_rows, rain_peaks, level, inflow, outflow, height,
               highlight=None):
    def xpx(px):
        return x0 + (px - FRAME_LEFT_PX) / PX_PER_YEAR

    p = figure(width=PAGE_W, height=height, output_backend="svg", toolbar_location=None,
               x_range=Range1d(xpx(0), xpx(PAGE_W)),
               y_range=Range1d(FRAME_H, 0),
               min_border_left=0, min_border_right=0,
               min_border_top=0, min_border_bottom=height - FRAME_H)
    p.outline_line_color = None
    p.grid.visible = False
    p.yaxis.visible = False
    p.background_fill_color = "white"
    p.border_fill_color = "white"

    # one value range per panel, each mapped onto its own band of the frame
    ranges, tick_pos, tick_lab = {}, [], []
    for name, top, bot, lo, hi, ticks in PANELS:
        k = (hi - lo) / (bot - top)
        ranges[name] = Range1d(lo - (FRAME_H - bot) * k, hi + top * k)
        for v in ticks:
            tick_pos.append(bot - (v - lo) / k)
            tick_lab.append(str(v))
    p.extra_y_ranges = ranges

    # value labels at the left of each panel
    p.text(x=[xpx(TICK_LABEL_RIGHT_PX)] * len(tick_pos), y=tick_pos, text=tick_lab,
           text_align="right", text_baseline="middle", text_font=value(NUM_FONT),
           text_font_size="20px", text_color="black")

    xax = p.xaxis[0]
    xax.ticker = FixedTicker(ticks=years)
    xax.formatter = CustomJSTickFormatter(code="return 'H' + Math.round(tick);")
    xax.axis_line_color = None
    xax.major_tick_line_color = None
    xax.minor_tick_line_color = None
    xax.major_tick_out = 0
    xax.major_tick_in = 0
    xax.major_label_standoff = 0
    xax.major_label_text_font = NUM_FONT
    xax.major_label_text_font_size = "20px"
    xax.major_label_text_color = "black"

    # grid lines inside each panel
    inner_years = years[1:]
    for name, top, bot, lo, hi, ticks in PANELS:
        inner = [v for v in ticks if lo < v < hi]
        p.segment(x0=[x0] * len(inner), x1=[x0 + 10] * len(inner), y0=inner, y1=inner,
                  line_color=GRID, line_width=1, y_range_name=name)
        p.segment(x0=inner_years, x1=inner_years, y0=[lo] * len(inner_years),
                  y1=[hi] * len(inner_years), line_color=GRID, line_width=1, y_range_name=name)

    rain_vals = np.array([v for row in rain_rows for v in row], dtype=float)
    per_year = len(rain_rows[0])
    rain_t = x0 + (np.arange(len(rain_vals)) + 0.5) / per_year
    p.vbar(x=rain_t, top=rain_vals, bottom=0, width=1.7 / PX_PER_YEAR, fill_color=RAIN_COLOR,
           line_color=None, y_range_name="rain")
    pt, pv = unzip(rain_peaks)
    p.vbar(x=pt, top=pv, bottom=0, width=1.1 / PX_PER_YEAR, fill_color="#555555",
           line_color=None, y_range_name="rain")

    lt, lv = unzip(level)
    p.line(lt, lv, line_color="black", line_width=2.6, y_range_name="level")
    it, iv = unzip(inflow)
    p.line(it, iv, line_color="black", line_width=2.3, y_range_name="flow")
    ot, ov = unzip(outflow)
    p.line(ot, ov, line_color="#ff0000", line_width=2.3, y_range_name="flow")

    for name, top, bot, lo, hi, ticks in PANELS:
        p.quad(left=[x0], right=[x0 + 10], bottom=[lo], top=[hi], fill_alpha=0,
               line_color="black", line_width=2, y_range_name=name)

    # legend for the flow panel
    l, r, t, b = LEGEND_BOX_PX
    p.quad(left=[xpx(l)], right=[xpx(r)], top=[t], bottom=[b], fill_color="white",
           line_color="black", line_width=2)
    ymid = (t + b) / 2
    for (a, c), col in zip(LEGEND_LINE_PX, ["black", "#ff0000"]):
        p.segment(x0=[xpx(a)], x1=[xpx(c)], y0=[ymid], y1=[ymid], line_color=col, line_width=2)
    for tx, txt in zip(LEGEND_TEXT_PX, LEGEND_LABELS):
        p.add_layout(Label(x=xpx(tx), y=ymid, text=txt, text_font=JP_FONT,
                           text_font_size="20px", text_align="left", text_baseline="middle",
                           text_color="#111111"))

    for ty, uy, ux, title, unit in zip(TITLE_Y, UNIT_Y, UNIT_X_PX, TITLES, UNITS):
        p.add_layout(Label(x=xpx(TITLE_X_PX), y=ty, text=title, text_font=JP_FONT,
                           text_font_size="22px", text_align="left", text_baseline="middle",
                           text_color="#111111"))
        p.add_layout(Label(x=xpx(ux), y=uy, text=unit, text_font=NUM_FONT,
                           text_font_size="17px", text_align="left", text_baseline="middle",
                           text_color="#111111"))

    if highlight is not None:
        p.add_layout(BoxAnnotation(left=highlight, right=x0 + 10, top=PANELS[0][1],
                                   bottom=PANELS[-1][2], fill_alpha=0, line_color="#ff0000",
                                   line_alpha=1.0, line_width=3))
    return p


top = make_group(5, YEARS_A, RAIN_A_ROWS, RAIN_A_PEAKS, LEVEL_A, INFLOW_A, OUTFLOW_A, 782)
bottom = make_group(15, YEARS_B, RAIN_B_ROWS, RAIN_B_PEAKS, LEVEL_B, INFLOW_B, OUTFLOW_B, 744,
                    highlight=HIGHLIGHT_FROM)
page = column(top, bottom, spacing=0)

open("out.html", "w").write(file_html(page, INLINE))
